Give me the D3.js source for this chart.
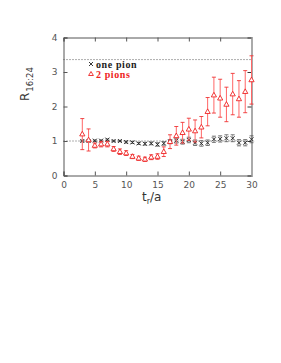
<!DOCTYPE html>
<html><head><meta charset="utf-8">
<script src="https://cdn.jsdelivr.net/npm/d3@7"></script>
<style>body{margin:0;background:#fff}</style>
</head><body>
<script>
const tOne = [3,4,5,6,7,8,9,10,11,12,13,14,15,16,17,18,19,20,21,22,23,24,25,26,27,28,29,30];
const onePion = [1.0,1.0,1.01,1.01,1.04,1.0,1.0,0.97,0.96,0.93,0.92,0.93,0.9,0.93,0.98,1.01,0.98,1.03,0.95,0.93,0.95,1.05,1.06,1.08,1.08,0.95,0.95,1.05];
const onePionErr = [0.02,0.02,0.02,0.02,0.02,0.02,0.02,0.03,0.03,0.03,0.04,0.04,0.05,0.05,0.06,0.07,0.07,0.08,0.08,0.08,0.08,0.09,0.09,0.1,0.1,0.09,0.09,0.1];
const tTwo = tOne;
const twoPions = [1.2,1.03,0.87,0.91,0.91,0.77,0.69,0.65,0.55,0.5,0.47,0.53,0.55,0.69,0.98,1.15,1.24,1.34,1.29,1.4,1.85,2.33,2.24,2.06,2.36,2.22,2.43,2.77];
const twoPionsErr = [0.45,0.32,0.07,0.08,0.08,0.07,0.08,0.07,0.06,0.06,0.06,0.07,0.08,0.14,0.2,0.27,0.3,0.32,0.32,0.31,0.41,0.52,0.55,0.5,0.6,0.53,0.61,0.7];
const xTicks = [0,5,10,15,20,25,30];
const yTicks = [0,1,2,3,4];
const refLines = [1, 3.36];

const W=281,H=363;
const svg=d3.select("body").append("svg").attr("width",W).attr("height",H);
const x=d3.scaleLinear().domain([0,30]).range([63.5,251.5]);
const y=d3.scaleLinear().domain([0,4]).range([175.5,37.5]);

svg.selectAll(".ref").data(refLines).enter().append("line")
  .attr("x1",x(0)).attr("x2",x(30)).attr("y1",d=>y(d)).attr("y2",d=>y(d))
  .attr("stroke","#333").attr("stroke-width",0.8).attr("stroke-dasharray","1,2");

const fmt=d3.format("d");
const axB=d3.axisBottom(x).tickValues(xTicks).tickSize(-4).tickPadding(6).tickFormat(fmt);
const axL=d3.axisLeft(y).tickValues(yTicks).tickSize(-4).tickPadding(6).tickFormat(fmt);
const axT=d3.axisTop(x).tickValues(xTicks).tickSize(-4).tickFormat("");
const axR=d3.axisRight(y).tickValues(yTicks).tickSize(-4).tickFormat("");
function style(g){g.select(".domain").attr("stroke","#555");g.selectAll(".tick line").attr("stroke","#555");
  g.selectAll("text").attr("fill","#555").attr("font-family","DejaVu Sans, sans-serif").attr("font-size",9);}
svg.append("g").attr("transform",`translate(0,${y(0)})`).call(axB).call(style);
svg.append("g").attr("transform",`translate(${x(0)},0)`).call(axL).call(style);
svg.append("g").attr("transform",`translate(0,${y(4)})`).call(axT).call(style);
const gr=svg.append("g").attr("transform",`translate(${x(30)},0)`).call(axR).call(style);
gr.select(".domain").attr("stroke","#aaa").attr("stroke-width",2);
gr.selectAll(".tick line").attr("stroke","#333");

const g1=svg.append("g");
tOne.forEach((t,i)=>{
  const cx=x(t),v=onePion[i],e=onePionErr[i];
  g1.append("line").attr("x1",cx).attr("x2",cx).attr("y1",y(v-e)).attr("y2",y(v+e)).attr("stroke","#888").attr("stroke-width",0.8);
  [v-e,v+e].forEach(q=>g1.append("line").attr("x1",cx-2).attr("x2",cx+2).attr("y1",y(q)).attr("y2",y(q)).attr("stroke","#555").attr("stroke-width",0.8));
  const s=2;
  g1.append("path").attr("d",`M${cx-s},${y(v)-s}L${cx+s},${y(v)+s}M${cx-s},${y(v)+s}L${cx+s},${y(v)-s}`).attr("stroke","#222").attr("stroke-width",0.9).attr("fill","none");
});

const g2=svg.append("g");
tTwo.forEach((t,i)=>{
  const cx=x(t),v=twoPions[i],e=twoPionsErr[i];
  g2.append("line").attr("x1",cx).attr("x2",cx).attr("y1",y(v-e)).attr("y2",y(v+e)).attr("stroke","#f66").attr("stroke-width",1);
  [v-e,v+e].forEach(q=>g2.append("line").attr("x1",cx-2).attr("x2",cx+2).attr("y1",y(q)).attr("y2",y(q)).attr("stroke","#e33").attr("stroke-width",0.9));
  const cy=y(v);
  g2.append("path").attr("d",`M${cx},${cy-2.8}L${cx+2.6},${cy+1.8}L${cx-2.6},${cy+1.8}Z`).attr("stroke","#e22").attr("stroke-width",0.9).attr("fill","#fff");
});

svg.append("path").attr("d","M89,62L93,66M89,66L93,62").attr("stroke","#222").attr("stroke-width",0.9);
svg.append("text").attr("x",96).attr("y",67.5).text("one pion").attr("font-family","Liberation Serif, serif").attr("font-weight","bold").attr("font-size",10).attr("fill","#222").attr("letter-spacing",0.6);
svg.append("path").attr("d","M91,71.5L93.4,75.5L88.6,75.5Z").attr("stroke","#e22").attr("stroke-width",0.9).attr("fill","#fff");
svg.append("text").attr("x",96).attr("y",78).text("2 pions").attr("font-family","Liberation Serif, serif").attr("font-weight","bold").attr("font-size",10).attr("fill","#e22").attr("letter-spacing",0.6);

const yl=svg.append("text").attr("transform","translate(29,101) rotate(-90)").attr("font-family","DejaVu Sans, sans-serif").attr("fill","#333");
yl.append("tspan").attr("font-size",12).text("R");
yl.append("tspan").attr("font-size",8.5).attr("dy",4).attr("dx",1).text("16:24");
const xl=svg.append("text").attr("x",142).attr("y",201).attr("font-family","DejaVu Sans, sans-serif").attr("fill","#333");
xl.append("tspan").attr("font-size",12).text("t");
xl.append("tspan").attr("font-size",8).attr("dy",3).text("r");
xl.append("tspan").attr("font-size",12).attr("dy",-3).text("/a");
</script>
</body></html>
